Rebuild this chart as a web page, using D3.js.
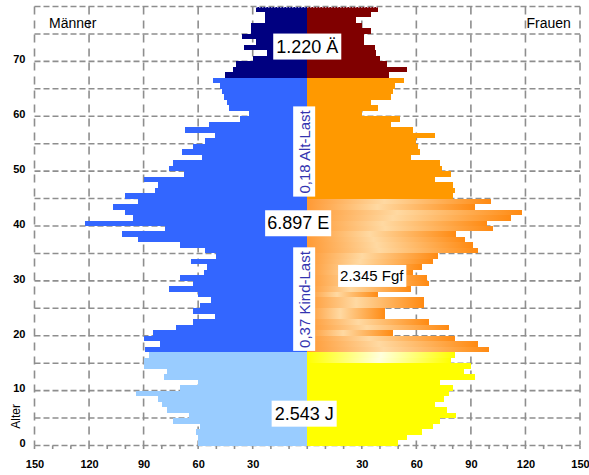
<!DOCTYPE html>
<html>
<head>
<meta charset="utf-8">
<script src="https://cdn.jsdelivr.net/npm/d3@7"></script>
<style>
    body { margin: 0; background: #fff; }
    text { font-family: Arial, "Liberation Sans", sans-serif; }
    .tick text { font-family: "Liberation Sans Narrow", "Arial Narrow", Arial, sans-serif; font-weight: bold; font-size: 11px; fill: #000; }
</style>
</head>
<body>
<script>
// Altersjahre 0..79, Werte je Jahrgang
const ages = d3.range(0, 80);

const men = [
    60, 60, 61, 59, 74, 65, 77, 80, 82, 94, 70, 60, 79, 77, 90, 90, 87,
    89, 81, 90, 85, 72, 63, 51, 63, 59, 53, 60, 76, 63, 70, 57, 55, 64, 50, 56, 70,
    93, 102, 78, 122, 96, 100, 107, 93, 100, 84, 82, 90, 68, 76, 74, 58, 69, 63,
    56, 51, 67, 54, 37, 32, 43, 44, 46, 47, 48, 52,
    45, 41, 39, 30, 22, 35, 28, 36, 31, 31, 23, 23, 28
];

const women = [
    50, 55, 63, 69, 73, 82, 77, 70, 75, 78, 80, 73, 92, 86, 90, 79, 81,
    100, 94, 81, 47, 78, 67, 43, 43, 64, 64, 39, 57, 67, 66, 58, 63, 69, 72, 94, 91,
    87, 82, 102, 99, 112, 118, 92, 101,
    80, 81, 80, 70, 79, 74, 73, 57, 62, 61, 60, 70, 58, 46, 51, 30, 39, 35, 46, 47, 48, 53,
    45, 55, 44, 40, 38, 37, 31, 31, 35, 30, 27, 35, 39
];

const xTicks = [-150, -120, -90, -60, -30, 0, 30, 60, 90, 120, 150];
const yTicks = [0, 10, 20, 30, 40, 50, 60, 70];
const sexLabels = ["Männer", "Frauen"];
const groupLabels = ["1.220 Ä", "6.897 E", "2.345 Fgf", "2.543 J"];
const ratioLabels = ["0,18 Alt-Last", "0,37 Kind-Last"];
const axisTitle = "Alter";

let width = 589;
let height = 475;

const svg = d3.select('body')
    .append('svg')
    .attr('width', width)
    .attr('height', height);

let x = d3.scaleLinear().domain([-150, 150]).range([34.5, 580]);
let y = d3.scaleLinear().domain([0, 80]).range([445.5, 6.5]);

// gradients for the fertile women
const defs = svg.append('defs');
let gO = defs.append('linearGradient').attr('id', 'gradOrange');
gO.append('stop').attr('offset', '0%').attr('stop-color', '#ff9a35');
gO.append('stop').attr('offset', '42%').attr('stop-color', '#ffd9a2');
gO.append('stop').attr('offset', '100%').attr('stop-color', '#ff8a12');
let gY = defs.append('linearGradient').attr('id', 'gradYellow');
gY.append('stop').attr('offset', '0%').attr('stop-color', '#ffff00');
gY.append('stop').attr('offset', '50%').attr('stop-color', '#ffffdc');
gY.append('stop').attr('offset', '100%').attr('stop-color', '#ffff00');

function menColor(a) {
    if (a <= 16) return '#99ccff';
    if (a <= 66) return '#3366ff';
    return '#000080';
}

function womenColor(a) {
    if (a <= 14) return '#ffff00';
    if (a <= 16) return 'url(#gradYellow)';
    if (a <= 44) return 'url(#gradOrange)';
    if (a <= 66) return '#ff9900';
    return '#800000';
}

//Grid
let grid = svg.append('g').attr('stroke', '#8e8e8e').attr('stroke-width', 1.6).attr('fill', 'none');

grid.selectAll('line.h')
    .data(d3.range(0, 85, 5))
    .enter()
    .append('line')
    .attr('x1', x(-150)).attr('x2', x(150))
    .attr('y1', d => y(d)).attr('y2', d => y(d))
    .attr('stroke-dasharray', '6,3');

grid.selectAll('line.v')
    .data(xTicks.filter(d => d !== 0))
    .enter()
    .append('line')
    .attr('x1', d => x(d)).attr('x2', d => x(d))
    .attr('y1', y(80)).attr('y2', y(0))
    .attr('stroke-dasharray', '8,6');

grid.selectAll('line.t')
    .data(d3.range(-150, 151, 10))
    .enter()
    .append('line')
    .attr('x1', d => x(d)).attr('x2', d => x(d))
    .attr('y1', y(0)).attr('y2', y(0) + 3.5);

//Bars
let bars = svg.append('g').attr('shape-rendering', 'crispEdges');

bars.selectAll('rect.m')
    .data(ages)
    .enter()
    .append('rect')
    .attr('x', a => x(-men[a]))
    .attr('width', a => x(0) - x(-men[a]))
    .attr('y', a => y(a + 1))
    .attr('height', a => y(a) - y(a + 1))
    .attr('fill', a => menColor(a));

bars.selectAll('rect.w')
    .data(ages)
    .enter()
    .append('rect')
    .attr('x', x(0))
    .attr('width', a => x(women[a]) - x(0))
    .attr('y', a => y(a + 1))
    .attr('height', a => y(a) - y(a + 1))
    .attr('fill', a => womenColor(a));

// dotted top edge over the oldest bars
svg.append('line')
    .attr('x1', x(-men[79])).attr('x2', x(women[79]))
    .attr('y1', y(80) + 1).attr('y2', y(80) + 1)
    .attr('stroke', '#d8d8f0').attr('stroke-width', 1.2)
    .attr('stroke-dasharray', '1,2');

//Axes
let xAxis = svg.append('g')
    .attr('transform', 'translate(0,' + y(0) + ')')
    .call(d3.axisBottom(x).tickValues(xTicks).tickSize(0).tickPadding(15)
        .tickFormat(d => d === 0 ? '' : Math.abs(d)));
xAxis.select('.domain').remove();

let yAxis = svg.append('g')
    .attr('transform', 'translate(' + x(-150) + ',0)')
    .call(d3.axisLeft(y).tickValues(yTicks).tickSize(0).tickPadding(9));
yAxis.select('.domain').remove();
yAxis.selectAll('text').attr('dy', '0.12em');

svg.append('text')
    .attr('transform', 'translate(16,' + y(5.3) + ') rotate(-90)')
    .attr('text-anchor', 'middle')
    .attr('dominant-baseline', 'central')
    .style('font-size', '12px')
    .text(axisTitle);

svg.append('text')
    .attr('x', x(-142))
    .attr('y', 28)
    .style('font-size', '14px')
    .text(sexLabels[0]);

svg.append('text')
    .attr('x', x(145))
    .attr('y', 28)
    .attr('text-anchor', 'end')
    .style('font-size', '14px')
    .text(sexLabels[1]);

//Labels in white boxes
function boxLabel(txt, cx, cy, size, color, rotated, padX, padY) {
    let g = svg.append('g')
        .attr('transform', 'translate(' + cx + ',' + cy + ')' + (rotated ? ' rotate(-90)' : ''));
    let rect = g.append('rect').attr('fill', '#fff');
    let t = g.append('text')
        .attr('text-anchor', 'middle')
        .attr('dominant-baseline', 'central')
        .style('font-size', size + 'px')
        .attr('fill', color)
        .text(txt);
    let b = t.node().getBBox();
    rect.attr('x', b.x - padX).attr('y', b.y - padY)
        .attr('width', b.width + 2 * padX).attr('height', b.height + 2 * padY);
}

boxLabel(groupLabels[0], x(0), y(72.7), 18, '#000', false, 3, 3);
boxLabel(groupLabels[1], x(-5), y(40.5), 18, '#000', false, 2, 3);
boxLabel(groupLabels[2], x(35.5), y(30.9), 15, '#000', false, 2, 2.5);
boxLabel(groupLabels[3], x(-1.7), y(5.8), 18, '#000', false, 3, 3);
boxLabel(ratioLabels[0], x(-1.7), y(53.5), 15, '#3434b0', true, 3, 2.5);
boxLabel(ratioLabels[1], x(-1.7), y(26.6), 15, '#3434b0', true, 3, 2.5);
</script>
</body>
</html>
